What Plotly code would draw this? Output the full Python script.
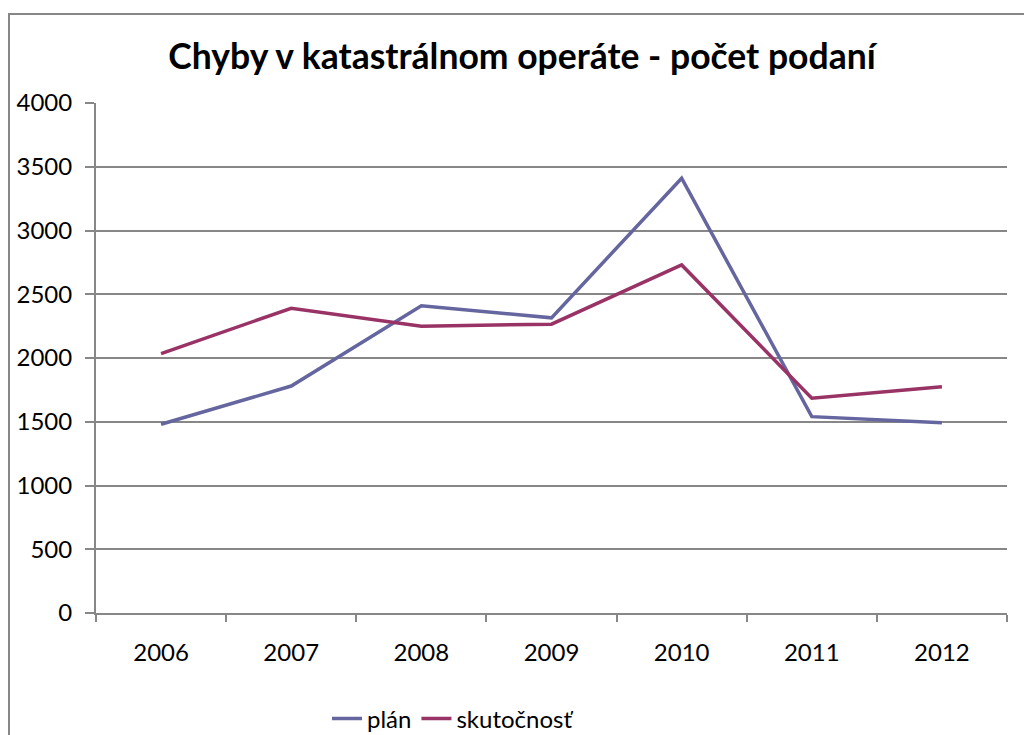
import plotly.graph_objects as go

years = ["2006", "2007", "2008", "2009", "2010", "2011", "2012"]
plan = [1480, 1780, 2410, 2315, 3410, 1540, 1493]
skutocnost = [2035, 2390, 2250, 2265, 2730, 1684, 1775]
series_names = ["plán", "skutočnosť"]
title_text = "Chyby v katastrálnom operáte - počet podaní"

W, H = 1032, 735
OFF = 8  # page body margin shifts the figure by this many px
# plot area in reference-screen pixels: x 96..1007, y 103..613
L, T = 96 - OFF, 103 - OFF
R = W - (1007 - OFF)
B = H - (613 - OFF)
pw, ph = W - L - R, H - T - B

def px_x(x):
    return (x - OFF - L) / pw

def px_y(y):
    return (H - B - (y - OFF)) / ph

fig = go.Figure()
fig.add_trace(go.Scatter(x=years, y=plan, mode="lines", name=series_names[0],
                         line=dict(color="#65659F", width=3.5)))
fig.add_trace(go.Scatter(x=years, y=skutocnost, mode="lines", name=series_names[1],
                         line=dict(color="#993366", width=3.5)))

grid = "#878787"
fig.update_layout(
    width=W, height=H,
    margin=dict(l=L, r=R, t=T, b=B),
    paper_bgcolor="white", plot_bgcolor="white",
    font=dict(family="Lato, 'Open Sans', sans-serif", size=24, color="black"),
    title=dict(text="<b>" + title_text + "</b>", x=(522 - OFF) / W, xref="container",
               y=1 - (57 - OFF) / H, yref="container", xanchor="center", yanchor="middle",
               font=dict(size=35.5, color="black", family="Lato, sans-serif")),
    xaxis=dict(type="category", range=[-0.5, 6.5], tickson="boundaries",
               ticks="outside", ticklen=7, tickwidth=2, tickcolor=grid,
               showline=True, linecolor=grid, linewidth=2, showgrid=False,
               ticklabelstandoff=17, tickfont=dict(size=24), automargin=False),
    yaxis=dict(range=[0, 4000], dtick=500, tick0=0, ticks="outside", ticklen=9,
               tickwidth=2, tickcolor=grid, showline=True, linecolor=grid,
               linewidth=2, showgrid=True, gridcolor=grid, gridwidth=2,
               zeroline=False, ticklabelstandoff=8, tickfont=dict(size=24),
               automargin=False),
    legend=dict(orientation="h", xref="container", x=(453 - OFF) / W, xanchor="center",
                yref="container", y=1 - (719 - OFF) / H, yanchor="middle",
                font=dict(size=24), bgcolor="rgba(0,0,0,0)"),
    shapes=[dict(type="rect", xref="paper", yref="paper",
                 x0=px_x(9), y0=px_y(800), x1=px_x(1100), y1=px_y(14),
                 line=dict(color=grid, width=2), fillcolor="rgba(0,0,0,0)",
                 layer="below")],
)

fig.write_html("out.html")
